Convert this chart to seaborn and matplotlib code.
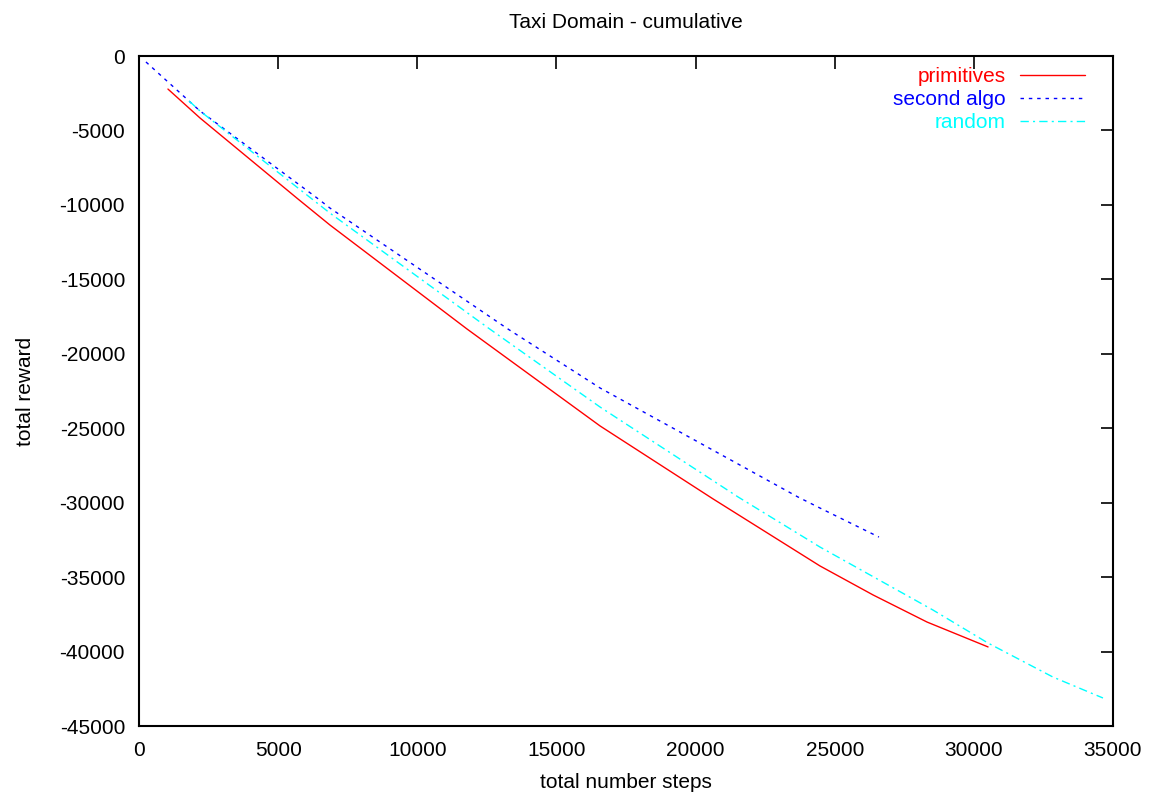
import matplotlib
matplotlib.use("Agg")
import matplotlib.pyplot as plt
import seaborn as sns
import pandas as pd

# data
prim_x = [1040, 2190, 5710, 6860, 11790, 16570, 20630, 24470, 26380, 28320, 30510]
prim_y = [-2220, -4160, -9600, -11350, -18340, -24850, -29750, -34250, -36200, -38020, -39690]

second_x = [250, 2190, 6400, 6860, 13260, 16570, 23680, 24470, 26590]
second_y = [-400, -3690, -9540, -10210, -18340, -22300, -29620, -30360, -32310]

random_x = [1800, 2190, 6860, 12500, 16570, 21530, 24470, 28530, 30510, 32840, 34640]
random_y = [-3020, -3690, -10550, -18200, -23580, -29620, -32980, -37210, -39430, -41710, -43120]

labels = ["primitives", "second algo", "random"]
colors = ["#ff0000", "#0000ff", "#00ffff"]

sns.set_theme(style="white")
plt.rcParams['font.family'] = ['Liberation Sans', 'DejaVu Sans']
plt.rcParams['axes.unicode_minus'] = False
plt.rcParams['text.color'] = 'black'
plt.rcParams['axes.labelcolor'] = 'black'

fig = plt.figure(figsize=(11.5, 7.97), dpi=100)
ax = fig.add_axes([139/1150, 71/797, 974/1150, 670/797])

series = [(prim_x, prim_y), (second_x, second_y), (random_x, random_y)]
styles = ["-", (0, (2.5, 3.5)), (0, (6, 3, 1.5, 3))]
for (xs, ys), lab, col, ls in zip(series, labels, colors, styles):
    df = pd.DataFrame({"x": xs, "y": ys})
    sns.lineplot(data=df, x="x", y="y", ax=ax, color=col, label=lab,
                 linewidth=1.0, linestyle=ls, sort=False, estimator=None)

ax.set_xlim(0, 35000)
ax.set_ylim(-45000, 0)
ax.set_xticks(range(0, 35001, 5000))
ax.set_yticks(range(-45000, 1, 5000))
ax.tick_params(direction="in", length=9, width=1.2, top=True, right=True,
               labelsize=15, colors="black")
ax.tick_params(axis="x", pad=11)
ax.tick_params(axis="y", pad=10)
for s in ax.spines.values():
    s.set_color("black")
    s.set_linewidth(1.5)

ax.set_xlabel("total number steps", fontsize=15, labelpad=9, color="black")
ax.set_ylabel("total reward", fontsize=15, labelpad=18, color="black")
ax.set_title("Taxi Domain - cumulative", fontsize=15, pad=20, color="black")

leg = ax.legend(loc="upper right", bbox_to_anchor=(0.9713, 0.9836),
                frameon=False, markerfirst=False, borderpad=0,
                borderaxespad=0, labelcolor="linecolor", fontsize=15,
                handlelength=3.1, handletextpad=0.7, labelspacing=0.2)
for t in leg.get_texts():
    t.set_ha("right")

fig.savefig("out.png", dpi=100)
